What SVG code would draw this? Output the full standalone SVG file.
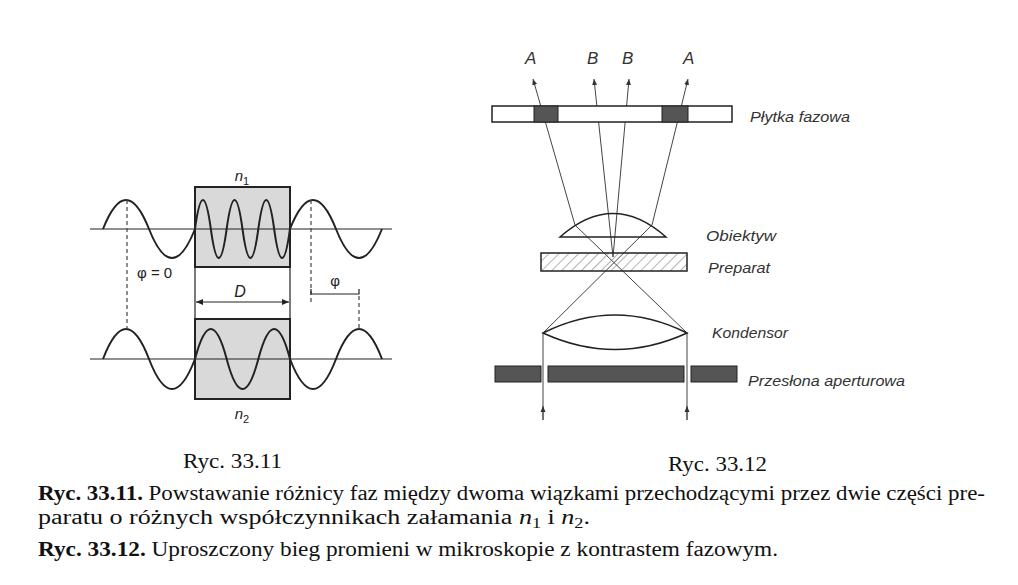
<svg xmlns="http://www.w3.org/2000/svg" width="1018" height="585" viewBox="0 0 1018 585">
<style>
.w{fill:none;stroke:#222;stroke-width:2}
.t{fill:none;stroke:#222;stroke-width:1.2}
.d{fill:none;stroke:#444;stroke-width:1.2;stroke-dasharray:4 3}
.lab{font-family:"Liberation Sans",Arial,sans-serif;fill:#222}
.it{font-family:"Liberation Sans",Arial,sans-serif;font-style:italic;font-size:14px;fill:#333}
.cap{font-family:"Liberation Serif","Times New Roman",serif;font-size:20px;fill:#111}
.ray{fill:none;stroke:#444;stroke-width:1}
.dark{fill:#555;stroke:#222;stroke-width:1}
</style>
<defs>
<marker id="ah" markerWidth="8" markerHeight="8" refX="7" refY="4" orient="auto-start-reverse" markerUnits="userSpaceOnUse"><path d="M0,1 L7,4 L0,7 z" fill="#222"/></marker>
<marker id="ahs" markerWidth="8" markerHeight="8" refX="6" refY="3" orient="auto" markerUnits="userSpaceOnUse"><path d="M0,0.5 L6,3 L0,5.5 z" fill="#333"/></marker>
<pattern id="hatch" width="7" height="7" patternUnits="userSpaceOnUse" patternTransform="rotate(45)"><line x1="0" y1="0" x2="0" y2="7" stroke="#666" stroke-width="1"/></pattern>
</defs>
<rect width="1018" height="585" fill="#fff"/>

<g id="fig1">
<g id="box1"><rect x="195" y="187" width="95" height="80" fill="#d9d9d9" stroke="#222" stroke-width="2"/></g>
<g id="box2"><rect x="195" y="319" width="95" height="80" fill="#d9d9d9" stroke="#222" stroke-width="2"/></g>
<line class="t" x1="90" y1="229" x2="392" y2="229"/>
<line class="t" x1="90" y1="359" x2="392" y2="359"/>
<path class="w" d="M103,229 c15.33,-38.7 30.67,-38.7 46,0 c15.33,38.7 30.67,38.7 46,0 c5.28,-38.7 10.56,-38.7 15.83,0 c5.28,38.7 10.56,38.7 15.83,0 c5.28,-38.7 10.56,-38.7 15.83,0 c5.28,38.7 10.56,38.7 15.83,0 c5.28,-38.7 10.56,-38.7 15.83,0 c5.28,38.7 10.56,38.7 15.83,0 c15.33,-38.7 30.67,-38.7 46,0 c15.33,38.7 30.67,38.7 46,0"/>
<path class="w" d="M103,359 c15.33,-40 30.67,-40 46,0 c15.33,40 30.67,40 46,0 c10.56,-40 21.11,-40 31.67,0 c10.56,40 21.11,40 31.67,0 c10.56,-40 21.11,-40 31.67,0 c15.33,40 30.67,40 46,0 c15.33,-40 30.67,-40 46,0"/>
<line class="d" x1="127" y1="200" x2="127" y2="329"/>
<line class="d" x1="311" y1="200" x2="311" y2="305"/>
<line class="d" x1="359" y1="296" x2="359" y2="329"/>
<path class="t" d="M311,289 V294 H359 V289"/>
<line class="t" x1="195" y1="267" x2="195" y2="319"/>
<line class="t" x1="290" y1="267" x2="290" y2="319"/>
<line class="t" x1="196" y1="302" x2="289" y2="302" marker-start="url(#ah)" marker-end="url(#ah)"/>
<text class="lab" x="242" y="181" font-size="15" font-style="italic" text-anchor="middle">n<tspan font-size="11" dy="4" font-style="normal">1</tspan></text>
<text class="lab" x="242" y="419" font-size="15" font-style="italic" text-anchor="middle">n<tspan font-size="11" dy="4" font-style="normal">2</tspan></text>
<text class="lab" x="240" y="297" font-size="16" font-style="italic" text-anchor="middle">D</text>
<text class="lab" x="137" y="278" font-size="15">φ = 0</text>
<text class="lab" x="335" y="286" font-size="15" text-anchor="middle">φ</text>
</g>

<g id="fig2">
<g id="connectors">
<polyline class="ray" points="687,333 575,225 533,79" marker-end="url(#ahs)"/>
<polyline class="ray" points="543,333 652,225 688,79" marker-end="url(#ahs)"/>
<line class="ray" x1="613" y1="257" x2="594" y2="79" marker-end="url(#ahs)"/>
<line class="ray" x1="613" y1="257" x2="629" y2="79" marker-end="url(#ahs)"/>
<line class="ray" x1="543" y1="420" x2="543" y2="333"/>
<line class="ray" x1="687" y1="420" x2="687" y2="333"/>
<line class="ray" x1="543" y1="420" x2="543" y2="406" marker-end="url(#ahs)"/>
<line class="ray" x1="687" y1="420" x2="687" y2="406" marker-end="url(#ahs)"/>
</g>
<g id="plate">
<rect x="492" y="106" width="240" height="16" fill="#fff" stroke="#222" stroke-width="1.5"/>
<rect class="dark" x="534" y="106" width="24" height="16"/>
<rect class="dark" x="662" y="106" width="26" height="16"/>
</g>
<g id="objective"><path d="M560,237 Q613,190 666,237 Z" fill="none" stroke="#222" stroke-width="1.5"/></g>
<g id="preparat"><rect x="541" y="253" width="146" height="18" fill="url(#hatch)" stroke="#222" stroke-width="1.5"/></g>
<g id="condenser"><path d="M543,333 Q615,297 687,333 Q615,366 543,333 Z" fill="none" stroke="#222" stroke-width="1.5"/></g>
<g id="aperture">
<rect class="dark" x="495" y="366" width="46" height="16"/>
<rect class="dark" x="548" y="366" width="136" height="16"/>
<rect class="dark" x="691" y="366" width="46" height="16"/>
</g>
<g class="it">
<text x="525" y="64" font-size="17">A</text>
<text x="587" y="64" font-size="17">B</text>
<text x="622" y="64" font-size="17">B</text>
<text x="683" y="64" font-size="17">A</text>
</g>
<text class="it" x="750" y="122" textLength="100" lengthAdjust="spacingAndGlyphs">Płytka fazowa</text>
<text class="it" x="706" y="241" textLength="70" lengthAdjust="spacingAndGlyphs">Obiektyw</text>
<text class="it" x="708" y="273" textLength="62" lengthAdjust="spacingAndGlyphs">Preparat</text>
<text class="it" x="712" y="338" textLength="76" lengthAdjust="spacingAndGlyphs">Kondensor</text>
<text class="it" x="748" y="386" textLength="157" lengthAdjust="spacingAndGlyphs">Przesłona aperturowa</text>
</g>

<text class="cap" x="183" y="468" font-size="21" textLength="99" lengthAdjust="spacingAndGlyphs">Ryc. 33.11</text>
<text class="cap" x="668" y="471" font-size="21" textLength="99" lengthAdjust="spacingAndGlyphs">Ryc. 33.12</text>
<text class="cap" x="38" y="500" textLength="947" lengthAdjust="spacingAndGlyphs"><tspan font-weight="bold">Ryc. 33.11.</tspan> Powstawanie różnicy faz między dwoma wiązkami przechodzącymi przez dwie części pre-</text>
<text class="cap" x="38" y="524" textLength="552" lengthAdjust="spacingAndGlyphs">paratu o różnych współczynnikach załamania <tspan font-style="italic">n</tspan><tspan font-size="14" dy="4">1</tspan><tspan dy="-4"> i </tspan><tspan font-style="italic">n</tspan><tspan font-size="14" dy="4">2</tspan><tspan dy="-4">.</tspan></text>
<text class="cap" x="38" y="556" textLength="740" lengthAdjust="spacingAndGlyphs"><tspan font-weight="bold">Ryc. 33.12.</tspan> Uproszczony bieg promieni w mikroskopie z kontrastem fazowym.</text>
</svg>
